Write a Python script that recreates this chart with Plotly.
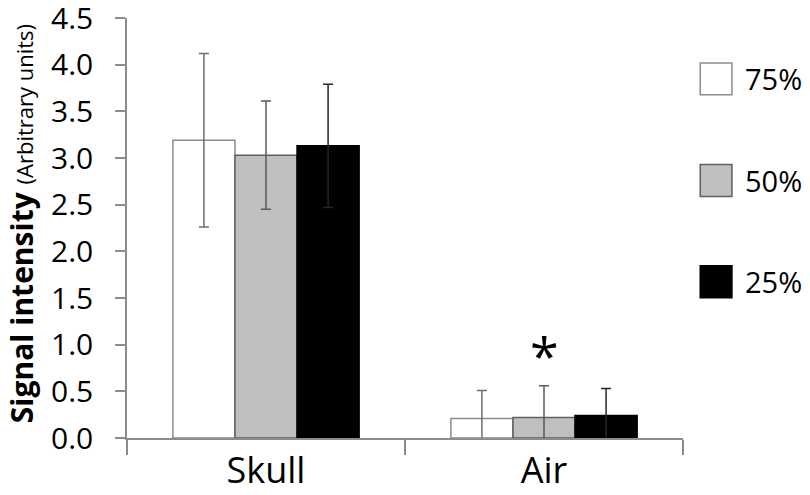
import plotly.graph_objects as go

# Data
categories = ["Skull", "Air"]
series_names = ["75%", "50%", "25%"]
values_75 = [3.19, 0.21]
values_50 = [3.03, 0.22]
values_25 = [3.13, 0.24]
err_75 = [0.93, 0.30]
err_50 = [0.58, 0.34]
err_25 = [0.66, 0.29]
star_category = "Air"
star_y = 0.98
y_ticks = [0.0, 0.5, 1.0, 1.5, 2.0, 2.5, 3.0, 3.5, 4.0, 4.5]

fills = ["#ffffff", "#bfbfbf", "#000000"]
outlines = ["#8c8c8c", "#5f5f5f", "#000000"]
err_colors = ["#6e6e6e", "#5a5a5a", "#262626"]
font = "Open Sans"

fig = go.Figure()
for name, vals, errs, fc, lc, ec in zip(series_names, [values_75, values_50, values_25],
                                       [err_75, err_50, err_25], fills, outlines, err_colors):
    fig.add_trace(go.Bar(
        x=categories, y=vals, name=name,
        marker=dict(color=fc, line=dict(color=lc, width=1.5)),
        error_y=dict(type="data", array=errs, visible=True, color=ec, thickness=1.5, width=5),
        showlegend=False,
    ))

# significance marker
fig.add_annotation(x=star_category, y=star_y, text="*", showarrow=False,
                   font=dict(family=font, size=52, color="black"), yanchor="middle", yshift=-8)

# legend drawn by hand (big square swatches like the original)
legend_y = [0.855, 0.613, 0.372]
for name, fc, lc, ly in zip(series_names, fills, outlines, legend_y):
    fig.add_shape(type="rect", xref="paper", yref="paper",
                  x0=1.031, x1=1.088, y0=ly - 0.038, y1=ly + 0.038,
                  fillcolor=fc, line=dict(color=lc, width=1.5))
    fig.add_annotation(xref="paper", yref="paper", x=1.108, y=ly, text=name,
                       showarrow=False, xanchor="left", yanchor="middle",
                       font=dict(family=font, size=29, color="black"))

# y axis title
fig.add_annotation(xref="paper", yref="paper", x=-0.19, y=0.51, textangle=-90,
                   text="<b>Signal intensity</b> <span style='font-size:22px'>(Arbitrary units)</span>",
                   showarrow=False, xanchor="center", yanchor="middle",
                   font=dict(family=font, size=30, color="black"))

# the page body adds an 8px margin, so the figure is shifted up/left by that much
fig.update_layout(
    width=810, height=495,
    margin=dict(l=119, r=135, t=10, b=65),
    paper_bgcolor="white", plot_bgcolor="white",
    barmode="group", bargap=0.33, bargroupgap=0,
    font=dict(family=font, color="black"),
)
fig.update_xaxes(
    showline=True, linecolor="#8c8c8c", linewidth=1.5,
    ticks="outside", tickson="boundaries", ticklen=15, tickcolor="#8c8c8c", tickwidth=1.5,
    tickfont=dict(family=font, size=36, color="black"),
    showgrid=False, automargin=False,
)
fig.update_yaxes(
    range=[0, 4.5], tickvals=y_ticks, ticktext=[f"{v:.1f}" for v in y_ticks],
    showline=True, linecolor="#8c8c8c", linewidth=1.5,
    ticks="outside", ticklen=10, tickcolor="#8c8c8c", tickwidth=1.5,
    ticklabelstandoff=16, ticklabeloverflow="allow",
    tickfont=dict(family=font, size=30, color="black"),
    showgrid=False, zeroline=False, automargin=False,
)

fig.write_html("out.html")
